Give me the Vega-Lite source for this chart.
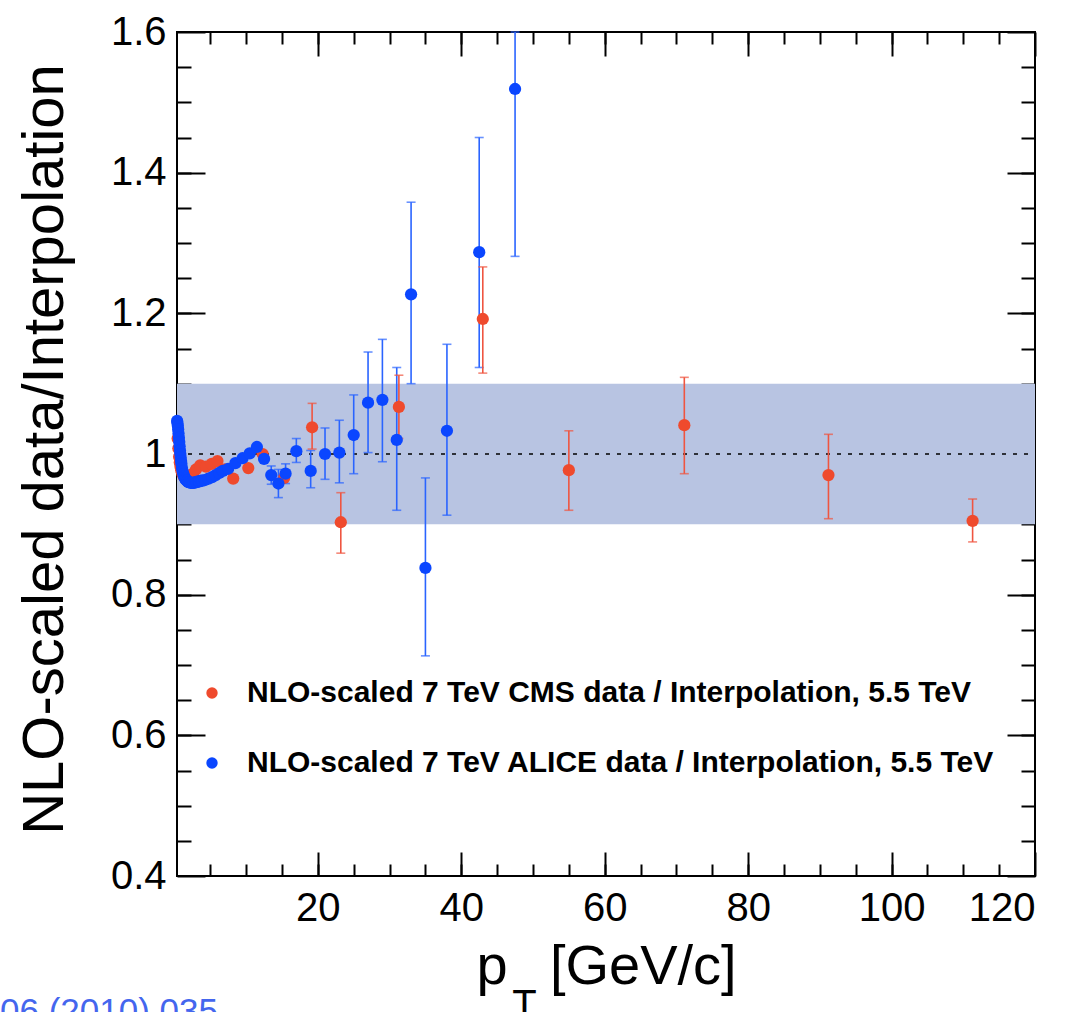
{
  "$schema": "https://vega.github.io/schema/vega-lite/v6.json",
  "autosize": {"type": "none"},
  "padding": {"left": 177, "top": 32, "right": 43, "bottom": 136},
  "width": 858,
  "height": 844,
  "background": "white",
  "config": {
    "view": {"stroke": "black", "strokeWidth": 2},
    "axis": {"grid": false, "domain": false, "tickColor": "black", "tickWidth": 2, "labelColor": "black", "titleColor": "black", "labelFont": "Liberation Sans", "titleFont": "Liberation Sans", "titleFontWeight": "normal"}
  },
  "title": {"text": "06 (2010) 035", "orient": "bottom", "anchor": "start", "frame": "group", "dx": -177, "offset": -30, "color": "#4466ee", "font": "Liberation Sans", "fontSize": 35, "fontWeight": "normal"},
  "datasets": {
    "band": [{"x1": 0.36, "x2": 120, "lo": 0.9, "hi": 1.1, "ref": 1}],
    "pts": [
      {"series": "CMS", "pt": 0.45, "v": 1.022},
      {"series": "CMS", "pt": 0.55, "v": 1.008},
      {"series": "CMS", "pt": 0.65, "v": 0.996},
      {"series": "CMS", "pt": 0.75, "v": 0.988},
      {"series": "CMS", "pt": 0.85, "v": 0.982},
      {"series": "CMS", "pt": 0.95, "v": 0.977},
      {"series": "CMS", "pt": 1.1, "v": 0.972},
      {"series": "CMS", "pt": 1.3, "v": 0.968},
      {"series": "CMS", "pt": 1.5, "v": 0.966},
      {"series": "CMS", "pt": 1.7, "v": 0.965},
      {"series": "CMS", "pt": 1.9, "v": 0.965},
      {"series": "CMS", "pt": 2.2, "v": 0.967},
      {"series": "CMS", "pt": 2.6, "v": 0.972},
      {"series": "CMS", "pt": 3.0, "v": 0.978},
      {"series": "CMS", "pt": 3.6, "v": 0.984},
      {"series": "CMS", "pt": 4.4, "v": 0.982},
      {"series": "CMS", "pt": 5.2, "v": 0.986},
      {"series": "CMS", "pt": 6.0, "v": 0.99},
      {"series": "CMS", "pt": 7.0, "v": 0.978},
      {"series": "CMS", "pt": 8.2, "v": 0.965},
      {"series": "CMS", "pt": 10.3, "v": 0.98},
      {"series": "CMS", "pt": 12.3, "v": 1.0},
      {"series": "CMS", "pt": 15.3, "v": 0.966},
      {"series": "CMS", "pt": 19.2, "v": 1.038, "lo": 1.007, "hi": 1.072},
      {"series": "CMS", "pt": 23.2, "v": 0.903, "lo": 0.859, "hi": 0.945},
      {"series": "CMS", "pt": 31.3, "v": 1.067, "lo": 1.022, "hi": 1.112},
      {"series": "CMS", "pt": 43.0, "v": 1.192, "lo": 1.115, "hi": 1.266},
      {"series": "CMS", "pt": 55.0, "v": 0.977, "lo": 0.92, "hi": 1.033},
      {"series": "CMS", "pt": 71.1, "v": 1.041, "lo": 0.972, "hi": 1.109},
      {"series": "CMS", "pt": 91.2, "v": 0.97, "lo": 0.908, "hi": 1.028},
      {"series": "CMS", "pt": 111.3, "v": 0.905, "lo": 0.875, "hi": 0.936},
      {"series": "ALICE", "pt": 0.375, "v": 1.047},
      {"series": "ALICE", "pt": 0.425, "v": 1.044},
      {"series": "ALICE", "pt": 0.475, "v": 1.04},
      {"series": "ALICE", "pt": 0.525, "v": 1.035},
      {"series": "ALICE", "pt": 0.575, "v": 1.029},
      {"series": "ALICE", "pt": 0.625, "v": 1.023},
      {"series": "ALICE", "pt": 0.675, "v": 1.017},
      {"series": "ALICE", "pt": 0.725, "v": 1.011},
      {"series": "ALICE", "pt": 0.775, "v": 1.005},
      {"series": "ALICE", "pt": 0.825, "v": 1.0},
      {"series": "ALICE", "pt": 0.875, "v": 0.995},
      {"series": "ALICE", "pt": 0.925, "v": 0.99},
      {"series": "ALICE", "pt": 0.975, "v": 0.986},
      {"series": "ALICE", "pt": 1.05, "v": 0.98},
      {"series": "ALICE", "pt": 1.15, "v": 0.975},
      {"series": "ALICE", "pt": 1.25, "v": 0.971},
      {"series": "ALICE", "pt": 1.35, "v": 0.968},
      {"series": "ALICE", "pt": 1.45, "v": 0.966},
      {"series": "ALICE", "pt": 1.55, "v": 0.964},
      {"series": "ALICE", "pt": 1.65, "v": 0.963},
      {"series": "ALICE", "pt": 1.75, "v": 0.962},
      {"series": "ALICE", "pt": 1.85, "v": 0.961},
      {"series": "ALICE", "pt": 1.95, "v": 0.96},
      {"series": "ALICE", "pt": 2.1, "v": 0.96},
      {"series": "ALICE", "pt": 2.3, "v": 0.959},
      {"series": "ALICE", "pt": 2.5, "v": 0.959},
      {"series": "ALICE", "pt": 2.7, "v": 0.959},
      {"series": "ALICE", "pt": 2.9, "v": 0.96},
      {"series": "ALICE", "pt": 3.1, "v": 0.96},
      {"series": "ALICE", "pt": 3.3, "v": 0.961},
      {"series": "ALICE", "pt": 3.5, "v": 0.961},
      {"series": "ALICE", "pt": 3.7, "v": 0.962},
      {"series": "ALICE", "pt": 3.9, "v": 0.962},
      {"series": "ALICE", "pt": 4.25, "v": 0.963},
      {"series": "ALICE", "pt": 4.75, "v": 0.965},
      {"series": "ALICE", "pt": 5.25, "v": 0.967},
      {"series": "ALICE", "pt": 5.75, "v": 0.97},
      {"series": "ALICE", "pt": 6.25, "v": 0.973},
      {"series": "ALICE", "pt": 6.75, "v": 0.976},
      {"series": "ALICE", "pt": 7.5, "v": 0.979},
      {"series": "ALICE", "pt": 8.5, "v": 0.987},
      {"series": "ALICE", "pt": 9.5, "v": 0.994},
      {"series": "ALICE", "pt": 10.5, "v": 1.001},
      {"series": "ALICE", "pt": 11.5, "v": 1.01},
      {"series": "ALICE", "pt": 12.5, "v": 0.993},
      {"series": "ALICE", "pt": 13.5, "v": 0.97, "lo": 0.957, "hi": 0.983},
      {"series": "ALICE", "pt": 14.5, "v": 0.958, "lo": 0.938, "hi": 0.978},
      {"series": "ALICE", "pt": 15.5, "v": 0.972, "lo": 0.958, "hi": 0.986},
      {"series": "ALICE", "pt": 17, "v": 1.004, "lo": 0.988, "hi": 1.022},
      {"series": "ALICE", "pt": 19, "v": 0.976, "lo": 0.952, "hi": 1.005},
      {"series": "ALICE", "pt": 21, "v": 1.0, "lo": 0.964, "hi": 1.037},
      {"series": "ALICE", "pt": 23, "v": 1.002, "lo": 0.959, "hi": 1.048},
      {"series": "ALICE", "pt": 25, "v": 1.027, "lo": 0.972, "hi": 1.084},
      {"series": "ALICE", "pt": 27, "v": 1.073, "lo": 1.002, "hi": 1.145},
      {"series": "ALICE", "pt": 29, "v": 1.077, "lo": 0.989, "hi": 1.163},
      {"series": "ALICE", "pt": 31, "v": 1.02, "lo": 0.92, "hi": 1.123},
      {"series": "ALICE", "pt": 33, "v": 1.227, "lo": 1.1, "hi": 1.358},
      {"series": "ALICE", "pt": 35, "v": 0.838, "lo": 0.713, "hi": 0.966},
      {"series": "ALICE", "pt": 38, "v": 1.033, "lo": 0.913, "hi": 1.156},
      {"series": "ALICE", "pt": 42.5, "v": 1.287, "lo": 1.123, "hi": 1.45},
      {"series": "ALICE", "pt": 47.5, "v": 1.519, "lo": 1.281, "hi": 1.6}
    ]
  },
  "resolve": {"axis": {"x": "independent", "y": "independent"}},
  "layer": [
    {
      "data": {"name": "band"},
      "mark": {"type": "rect", "color": "#b8c4e2"},
      "encoding": {
        "x": {"field": "x1", "type": "quantitative", "scale": {"domain": [0.36, 120], "nice": false, "zero": false},
          "axis": {"orient": "bottom", "values": [20, 40, 60, 80, 100, 120], "offset": -24, "tickSize": 24, "labelFontSize": 40, "labelPadding": 12, "format": "d",
            "title": "p\u00a0\u00a0\u2009[GeV/c]", "titleFontSize": 56, "titleX": 429, "titleY": 131, "titleBaseline": "alphabetic", "titleAlign": "center"}},
        "x2": {"field": "x2"},
        "y": {"field": "lo", "type": "quantitative", "scale": {"domain": [0.4, 1.6], "nice": false, "zero": false},
          "axis": {"orient": "left", "values": [0.4, 0.6, 0.8, 1, 1.2, 1.4, 1.6], "offset": -28, "tickSize": 28, "labelFontSize": 40, "labelPadding": 11, "format": "~g",
            "title": "NLO-scaled data/Interpolation", "titleFontSize": 58, "titleX": -143, "titleY": 417, "titleBaseline": "alphabetic", "titleAlign": "center", "titleAngle": 270}},
        "y2": {"field": "hi"}
      }
    },
    {
      "data": {"name": "band"},
      "mark": {"type": "rule", "color": "black", "strokeWidth": 1.6, "strokeDash": [4, 7]},
      "encoding": {
        "x": {"field": "x1", "type": "quantitative", "scale": {"domain": [0.36, 120], "nice": false, "zero": false},
          "axis": {"orient": "bottom", "values": [5, 10, 15, 20, 25, 30, 35, 40, 45, 50, 55, 60, 65, 70, 75, 80, 85, 90, 95, 100, 105, 110, 115], "offset": -12, "tickSize": 12, "labels": false,
            "title": "T", "titleFontSize": 40, "titleX": 347, "titleY": 153, "titleBaseline": "alphabetic", "titleAlign": "center"}},
        "x2": {"field": "x2"},
        "y": {"field": "ref", "type": "quantitative", "scale": {"domain": [0.4, 1.6], "nice": false, "zero": false},
          "axis": {"orient": "left", "values": [0.45, 0.5, 0.55, 0.6, 0.65, 0.7, 0.75, 0.8, 0.85, 0.9, 0.95, 1, 1.05, 1.1, 1.15, 1.2, 1.25, 1.3, 1.35, 1.4, 1.45, 1.5, 1.55], "offset": -14, "tickSize": 14, "labels": false, "title": null}}
      }
    },
    {
      "data": {"name": "pts"},
      "transform": [{"filter": "datum.series == 'ALICE' && isValid(datum.lo)"}],
      "mark": {"type": "errorbar", "color": "#2a64ff", "ticks": {"size": 9, "thickness": 1.6, "color": "#2a64ff"}, "rule": {"strokeWidth": 1.6, "color": "#2a64ff"}},
      "encoding": {
        "x": {"field": "pt", "type": "quantitative", "scale": {"domain": [0.36, 120], "nice": false, "zero": false},
          "axis": {"orient": "top", "values": [20, 40, 60, 80, 100, 120], "offset": -24, "tickSize": 24, "labels": false, "title": null}},
        "y": {"field": "lo", "type": "quantitative", "scale": {"domain": [0.4, 1.6], "nice": false, "zero": false},
          "axis": {"orient": "right", "values": [0.4, 0.6, 0.8, 1, 1.2, 1.4, 1.6], "offset": -28, "tickSize": 28, "labels": false, "title": null}},
        "y2": {"field": "hi"}
      }
    },
    {
      "data": {"name": "pts"},
      "transform": [{"filter": "datum.series == 'CMS' && isValid(datum.lo)"}],
      "mark": {"type": "errorbar", "color": "#ef5540", "ticks": {"size": 9, "thickness": 1.6, "color": "#ef5540"}, "rule": {"strokeWidth": 1.6, "color": "#ef5540"}},
      "encoding": {
        "x": {"field": "pt", "type": "quantitative", "scale": {"domain": [0.36, 120], "nice": false, "zero": false},
          "axis": {"orient": "top", "values": [5, 10, 15, 20, 25, 30, 35, 40, 45, 50, 55, 60, 65, 70, 75, 80, 85, 90, 95, 100, 105, 110, 115], "offset": -12, "tickSize": 12, "labels": false, "title": null}},
        "y": {"field": "lo", "type": "quantitative", "scale": {"domain": [0.4, 1.6], "nice": false, "zero": false},
          "axis": {"orient": "right", "values": [0.45, 0.5, 0.55, 0.6, 0.65, 0.7, 0.75, 0.8, 0.85, 0.9, 0.95, 1, 1.05, 1.1, 1.15, 1.2, 1.25, 1.3, 1.35, 1.4, 1.45, 1.5, 1.55], "offset": -14, "tickSize": 14, "labels": false, "title": null}},
        "y2": {"field": "hi"}
      }
    },
    {
      "data": {"name": "pts"},
      "mark": {"type": "point", "shape": "circle", "filled": true, "opacity": 1, "size": 150},
      "encoding": {
        "x": {"field": "pt", "type": "quantitative", "scale": {"domain": [0.36, 120], "nice": false, "zero": false}, "axis": null},
        "y": {"field": "v", "type": "quantitative", "scale": {"domain": [0.4, 1.6], "nice": false, "zero": false}, "axis": null},
        "color": {"field": "series", "type": "nominal", "sort": null,
          "scale": {"domain": ["CMS", "ALICE"], "range": ["#ef4a2d", "#0a46ff"]},
          "legend": {"orient": "none", "legendX": 20, "legendY": 646, "title": null, "padding": 0, "symbolType": "circle", "symbolSize": 130, "symbolStrokeWidth": 0,
            "labelFont": "Liberation Sans", "labelFontWeight": "bold", "labelFontSize": 30, "labelColor": "black", "labelOffset": 20, "labelLimit": 2000, "rowPadding": 40,
            "labelExpr": "datum.label == 'CMS' ? 'NLO-scaled 7 TeV CMS data / Interpolation, 5.5 TeV' : 'NLO-scaled 7 TeV ALICE data / Interpolation, 5.5 TeV'"}}
      }
    }
  ]
}
